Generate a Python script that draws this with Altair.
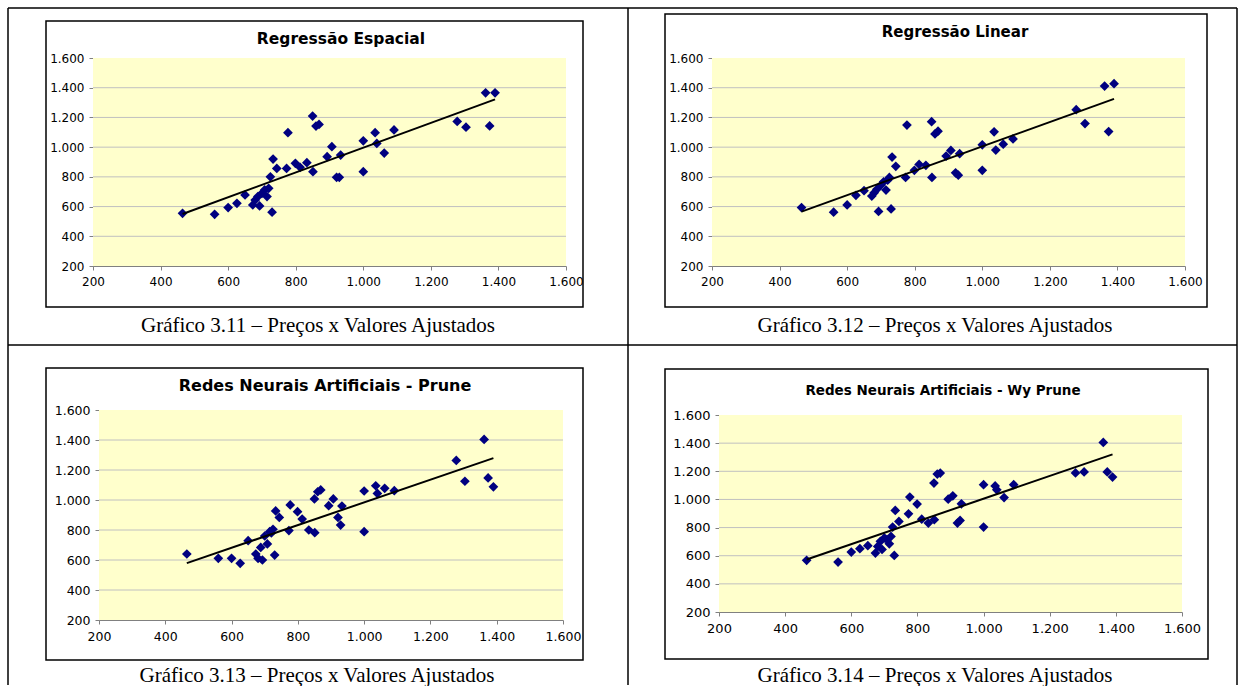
import altair as alt
import pandas as pd

# Observed prices (x), shared by the four models
precos = [465, 560, 600, 626, 650, 673, 680, 688, 693, 700, 708, 715, 720, 725,
          730, 733, 744, 773, 777, 799, 813, 833, 850, 851, 860, 869, 893, 907,
          921, 929, 933, 1000, 1000, 1035, 1040, 1062, 1091, 1278, 1304, 1362,
          1374, 1390]

# Fitted values (y) of each model
espacial = [555, 548, 593, 622, 678, 611, 644, 667, 604, 689, 712, 667, 723, 800,
            562, 920, 857, 857, 1097, 891, 864, 895, 1209, 835, 1142, 1153, 936, 1003,
            797, 797, 947, 1043, 835, 1097, 1025, 960, 1116, 1173, 1134, 1366,
            1143, 1366]
linear = [593, 562, 611, 676, 707, 671, 693, 716, 567, 744, 767, 711, 778, 796,
          584, 933, 871, 796, 1149, 844, 884, 878, 1171, 796, 1089, 1107, 940, 978,
          827, 811, 956, 1016, 844, 1103, 980, 1020, 1055, 1252, 1159, 1411,
          1105, 1427]
prune = [640, 611, 611, 578, 729, 640, 611, 684, 600, 760, 707, 789, 780, 805,
         633, 927, 884, 796, 967, 922, 873, 800, 1007, 782, 1055, 1067, 962, 1007,
         884, 833, 960, 1060, 789, 1095, 1044, 1078, 1062, 1264, 1125, 1404,
         1147, 1088]
wy_prune = [567, 555, 626, 650, 671, 619, 666, 702, 645, 726, 714, 685, 737, 804,
            602, 922, 844, 898, 1017, 967, 860, 832, 1116, 856, 1180, 1187, 1002, 1026,
            832, 851, 969, 1105, 804, 1096, 1068, 1013, 1105, 1188, 1195, 1405,
            1195, 1159]

titulos = ["Regressão Espacial", "Regressão Linear",
           "Redes Neurais Artificiais - Prune", "Redes Neurais Artificiais - Wy Prune"]
legendas = ["Gráfico 3.11 – Preços x Valores Ajustados",
            "Gráfico 3.12 – Preços x Valores Ajustados",
            "Gráfico 3.13 – Preços x Valores Ajustados",
            "Gráfico 3.14 – Preços x Valores Ajustados"]
marcas = [200, 400, 600, 800, 1000, 1200, 1400, 1600]
linhas_grade = [400, 600, 800, 1000, 1200, 1400]

FMT = "replace(format(datum.value, ','), ',', '.')"
CINZA = "#808080"
AMARELO = "#FFFFCC"


def um(valor):
    return pd.DataFrame({"t": [valor]})


def painel(valores, titulo, legenda, w, h, area, tit, leg, moldura, tam_titulo,
           tam_rotulo, extras=()):
    ax0, ax1, ay0, ay1 = area  # plot area inside the view, in pixels
    df = pd.DataFrame({"preco": precos, "ajustado": valores})
    esc_x = alt.Scale(domain=[200, 1600], nice=False, zero=False, range=[ax0, ax1])
    esc_y = alt.Scale(domain=[200, 1600], nice=False, zero=False, range=[ay1, ay0])
    comum = dict(values=marcas, tickCount=10, labelExpr=FMT, title=None,
                 labelFont="DejaVu Sans", labelFontSize=tam_rotulo, labelColor="black",
                 domainColor=CINZA, tickColor=CINZA, tickSize=4, labelOverlap=False,
                 grid=False)
    eixo_x = alt.Axis(labelFlush=False, labelPadding=6, **comum)
    eixo_y = alt.Axis(labelPadding=5, offset=-ax0, **comum)

    fundo = alt.Chart(um("")).mark_rect(color=AMARELO).encode(
        x=alt.value(ax0), x2=alt.value(ax1), y=alt.value(ay0), y2=alt.value(ay1))

    grade = alt.Chart(pd.DataFrame({"ajustado": linhas_grade})).mark_rule(
        color="#C0C0C0", strokeWidth=1).encode(
        y=alt.Y("ajustado:Q", scale=esc_y, axis=eixo_y),
        x=alt.value(ax0), x2=alt.value(ax1))

    base = alt.Chart(df)
    pontos = base.mark_point(shape="diamond", filled=True, size=95, color="#000080",
                             opacity=1).encode(
        x=alt.X("preco:Q", scale=esc_x, axis=eixo_x),
        y=alt.Y("ajustado:Q", scale=esc_y, axis=eixo_y),
    )
    reta = base.transform_regression("preco", "ajustado").mark_line(
        color="black", strokeWidth=2).encode(
        x=alt.X("preco:Q", scale=esc_x, axis=eixo_x),
        y=alt.Y("ajustado:Q", scale=esc_y, axis=eixo_y))

    x0, x1, y0, y1 = moldura
    quadro = alt.Chart(um("")).mark_rect(fillOpacity=0, stroke="black",
                                         strokeWidth=1.5).encode(
        x=alt.value(x0), x2=alt.value(x1), y=alt.value(y0), y2=alt.value(y1))

    texto_titulo = alt.Chart(um(titulo)).mark_text(
        font="DejaVu Sans", fontWeight="bold", fontSize=tam_titulo, align="center",
        baseline="middle", color="black").encode(
        text="t:N", x=alt.value(tit[0]), y=alt.value(tit[1]))

    texto_legenda = alt.Chart(um(legenda)).mark_text(
        font="Liberation Serif", fontSize=21, align="center", baseline="alphabetic",
        color="black").encode(text="t:N", x=alt.value(leg[0]), y=alt.value(leg[1]))

    camadas = [quadro, fundo, grade, pontos, reta, texto_titulo, texto_legenda]
    camadas += list(extras)
    return alt.layer(*camadas).properties(width=w, height=h)


def linha(x, x2, y, y2):
    enc = dict(x=alt.value(x), y=alt.value(y))
    if x2 is not None:
        enc["x2"] = alt.value(x2)
    if y2 is not None:
        enc["y2"] = alt.value(y2)
    return alt.Chart(um("")).mark_rule(color="black", strokeWidth=1.5).encode(**enc)


# table grid around the four cells, positioned from the first panel's view origin
tabela = [
    linha(-85, 1144, -50, None),
    linha(-85, 1144, 287, None),
    linha(-85, None, -50, 627),
    linha(535, None, -50, 627),
    linha(1144, None, -50, 627),
]

p1 = painel(espacial, titulos[0], legendas[0], 473, 208, (0, 473, 0, 208),
            (248, -19), (225, 274), (-47, 490, -37, 249), 15.5, 12, extras=tabela)
p2 = painel(linear, titulos[1], legendas[1], 473, 208, (0, 473, 0, 208),
            (243, -26), (223, 274), (-47, 495, -44, 249), 15, 12)
p3 = painel(prune, titulos[2], legendas[2], 470, 210, (6, 470, 0, 210),
            (232, -24), (224, 272), (-47, 490, -42, 250), 16, 12.5)
p4 = painel(wy_prune, titulos[3], legendas[3], 470, 202, (7, 470, 5, 202),
            (231, -19), (223, 272), (-47, 496, -41, 249), 13.5, 13)

chart = alt.concat(
    p1, p2, p3, p4, columns=2, bounds="flush",
    spacing={"row": 144, "column": 146},
).properties(
    padding={"left": 6, "top": 6, "right": 0, "bottom": 0},
    background="white",
).configure_view(stroke="transparent")

chart.save("out.html", embed_options={"renderer": "svg", "actions": False})
